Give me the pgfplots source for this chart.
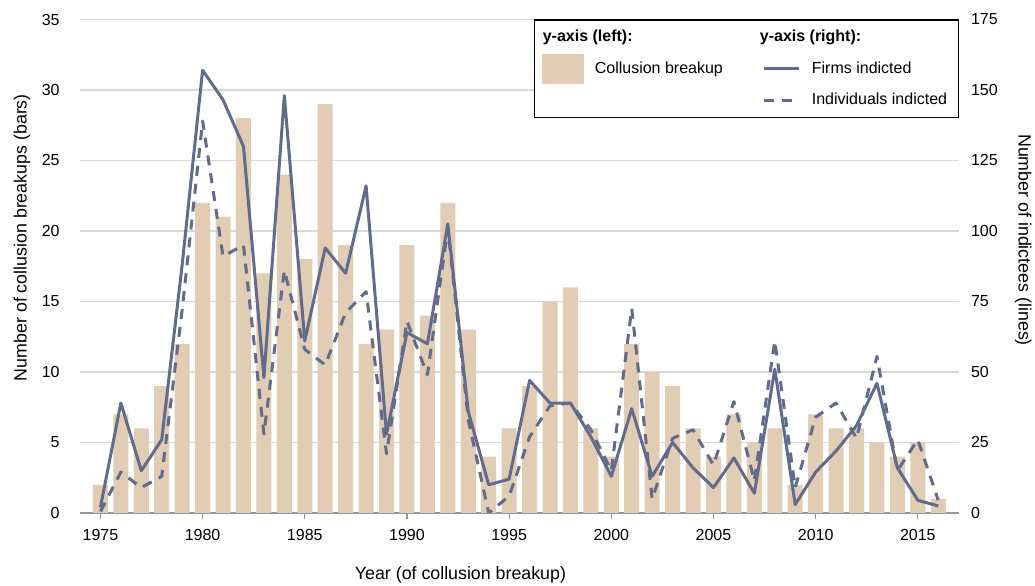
\documentclass[border=0pt]{standalone}
\usepackage{fontspec}
\setmainfont{Liberation Sans}
\usepackage{pgfplots}
\usepackage{pgfplotstable}
\pgfplotsset{compat=1.18}
\usetikzlibrary{calc}
\definecolor{barc}{RGB}{224,205,180}
\definecolor{linec}{RGB}{98,107,140}
\definecolor{gridc}{RGB}{217,217,217}
\definecolor{axc}{RGB}{150,150,150}

\pgfplotstableread{
year bars firms indiv
1975 2 2 0.5
1976 7 39 14.5
1977 6 15 9
1978 9 26 13
1979 12 88 72
1980 22 157 139
1981 21 146.5 91
1982 28 130 95
1983 17 48 28
1984 24 148 86
1985 18 61 58
1986 29 94 52.5
1987 19 85 71
1988 12 116 78.5
1989 13 28 21
1990 19 64 68
1991 14 60 49
1992 22 102.5 101
1993 13 36 33
1994 4 10 0
1995 6 12 6
1996 9 47 27
1997 15 39 38
1998 16 39 39
1999 6 27 29.5
2000 4 13 15
2001 12 37 72.5
2002 10 13 5
2003 9 25 26.5
2004 6 16 29.5
2005 4 9 17
2006 7 19.5 39.5
2007 5 7 11.5
2008 6 51 61
2009 2 3 9
2010 7 14.5 34
2011 6 22 39
2012 6 31 26.5
2013 5 46 55.5
2014 4 16 15
2015 5 4.5 26
2016 1 2.5 4.5
}\data

\begin{document}
\begin{tikzpicture}
\pgfplotsset{
  common/.style={
    scale only axis, width=439.35pt, height=246.75pt,
    xmin=1974, xmax=2017,
    tick label style={font=\fontsize{8}{9.6}\selectfont},
    label style={font=\fontsize{8.9}{10.7}\selectfont},
    /pgf/number format/assume math mode=true,
    /pgf/number format/1000 sep={},
  },
}
\begin{axis}[common,
  ymin=0, ymax=35, ytick={0,5,...,35},
  ymajorgrids, grid style={draw=gridc, line width=0.6pt},
  axis x line*=bottom, axis y line*=left,
  x axis line style={draw=axc, line width=0.6pt, -},
  y axis line style={draw=none},
  xtick={1975,1980,...,2015},
  xtick align=outside, xtick style={draw=axc, line width=0.6pt},
  major tick length=3pt,
  ytick style={draw=none},
  y tick label style={anchor=east, inner sep=0pt, xshift=-10pt},
  x tick label style={anchor=north, inner sep=0pt, yshift=-5pt},
  xlabel={Year (of collusion breakup)},
  xlabel style={at={(axis description cs:0.433,0)}, anchor=base, yshift=-33.5pt},
  ylabel={Number of collusion breakups (bars)},
  ylabel style={at={(axis description cs:-0.066,0.558)}, anchor=center, rotate=0},
]
\addplot[ybar, bar width=7.5pt, bar shift=0pt, fill=barc, draw=none] table[x=year,y=bars]{\data};
\coordinate (bl) at (rel axis cs:0,0);
\coordinate (tr) at (rel axis cs:1,1);
\end{axis}
\begin{axis}[common,
  ymin=0, ymax=175, ytick={0,25,...,175},
  axis x line=none, axis y line*=right,
  y axis line style={draw=none},
  ytick style={draw=none},
  y tick label style={anchor=west, inner sep=0pt, xshift=6pt},
  ylabel={Number of indictees (lines)},
  ylabel style={at={(axis description cs:1.0735,0.553)}, anchor=center, rotate=180},
  legend columns=2,
  legend cell align=left,
  legend style={at={(1,1)}, anchor=north east, draw=black, line width=0.6pt,
    font=\fontsize{8}{9.6}\selectfont, inner xsep=3.5pt, inner ysep=3pt,
    row sep=2.5pt,
    /tikz/every odd column/.append style={column sep=3.5pt},
    /tikz/every even column/.append style={column sep=18pt}},
]
\addplot[linec, line width=1.5pt, line join=round, forget plot] table[x=year,y=firms]{\data};
\addplot[linec, line width=1.5pt, dash pattern=on 5pt off 4pt, line join=round, forget plot] table[x=year,y=indiv]{\data};
\addlegendimage{empty legend}
\addlegendentry{\hspace*{-26pt}\textbf{y-axis (left):}}
\addlegendimage{empty legend}
\addlegendentry{\hspace*{-26pt}\textbf{y-axis (right):}}
\addlegendimage{legend image code/.code={\fill[barc] (0pt,-7.25pt) rectangle (20.5pt,7.25pt);}}
\addlegendentry{Collusion breakup}
\addlegendimage{linec, line width=1.5pt, legend image code/.code={\draw (0pt,0pt) -- (17.5pt,0pt);}}
\addlegendentry{Firms indicted}
\addlegendimage{empty legend}
\addlegendentry{}
\addlegendimage{linec, line width=1.5pt, dash pattern=on 5pt off 4pt, legend image code/.code={\draw (0pt,0pt) -- (17.5pt,0pt);}}
\addlegendentry{Individuals indicted}
\end{axis}
\pgfresetboundingbox
\path[use as bounding box] ($(bl)+(-40pt,-36.5pt)$) rectangle ($(tr)+(38.15pt,9.75pt)$);
\end{tikzpicture}
\end{document}
